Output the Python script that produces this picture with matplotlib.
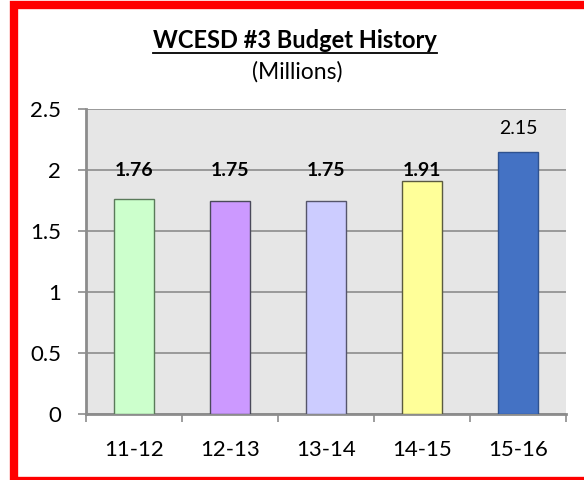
import matplotlib
matplotlib.use('Agg')
import matplotlib.pyplot as plt
from matplotlib.patches import Rectangle
from matplotlib.lines import Line2D

plt.rcParams['font.family'] = ['Lato', 'DejaVu Sans']

years = ['11-12', '12-13', '13-14', '14-15', '15-16']
budget = [1.76, 1.75, 1.75, 1.91, 2.15]
bar_labels = ['1.76', '1.75', '1.75', '1.91', '2.15']
colors = ['#CCFFCC', '#CC99FF', '#CCCCFF', '#FFFF99', '#4472C4']
edges = ['#5a7a5a', '#4a4a5a', '#55556a', '#5a5a40', '#2F528F']

W, H = 584, 480
fig = plt.figure(figsize=(W / 100, H / 100), dpi=100)
ax = fig.add_axes([86 / W, 1 - 414 / H, (566 - 86) / W, (414 - 109) / H])

x = range(len(years))
ax.bar(x, budget, width=0.41, color=colors, edgecolor=edges, linewidth=1.0, zorder=3)

ax.set_facecolor('#E6E6E6')
ax.set_xlim(-0.5, len(years) - 0.5)
ax.set_ylim(0, 2.5)
ax.set_yticks([0, 0.5, 1, 1.5, 2, 2.5])
ax.set_yticklabels(['0', '0.5', '1', '1.5', '2', '2.5'], fontsize=16)
ax.yaxis.grid(True, color='#8c8c8c', linewidth=1.2, zorder=1)
ax.set_axisbelow(True)

ax.set_xticks(list(x))
ax.set_xticklabels(years, fontsize=16)
ax.tick_params(axis='x', length=0, pad=19)
ax.tick_params(axis='y', length=6, width=1.2, color='#8c8c8c', pad=12)
# category boundary ticks
ax.set_xticks([i - 0.5 for i in range(len(years) + 1)], minor=True)
ax.tick_params(axis='x', which='minor', length=6, width=1.2, color='#8c8c8c')

for s in ['top', 'right']:
    ax.spines[s].set_visible(False)
ax.spines['left'].set_color('#8c8c8c')
ax.spines['left'].set_linewidth(2)
ax.spines['bottom'].set_color('#8c8c8c')
ax.spines['bottom'].set_linewidth(2)

for i, (v, lab) in enumerate(zip(budget, bar_labels)):
    if i < 4:
        ax.text(i, 2.0, lab, ha='center', va='center', fontsize=14,
                fontweight='bold', zorder=4)
    else:
        ax.text(i, v + 0.19, lab, ha='center', va='center', fontsize=14, zorder=4)

title = fig.text(295 / W, 1 - 40 / H, 'WCESD #3 Budget History', ha='center',
                 va='center', fontsize=17, fontweight='bold')
fig.text(297 / W, 1 - 72 / H, '(Millions)', ha='center', va='center', fontsize=16.5)

fig.canvas.draw()
bb = title.get_window_extent()
uy = bb.y0 - 1
fig.add_artist(Line2D([bb.x0 / W, bb.x1 / W], [uy / H, uy / H], color='black',
                      linewidth=1.3, transform=fig.transFigure))

fig.add_artist(Rectangle((14 / W, -1 / H), (600 - 14) / W, (H - 5 + 1) / H,
                         transform=fig.transFigure, fill=False,
                         edgecolor='#FF0000', linewidth=6, clip_on=False))

fig.savefig('out.png', dpi=100)
